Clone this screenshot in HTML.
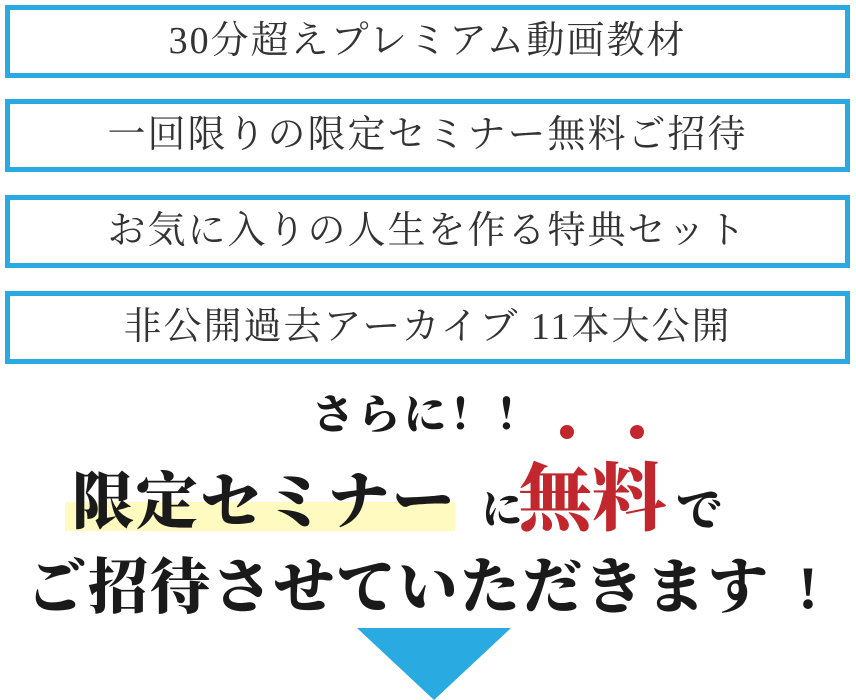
<!DOCTYPE html>
<html><head><meta charset="utf-8"><style>
body{margin:0;width:856px;height:700px;background:#fff;position:relative;overflow:hidden;font-family:"Liberation Serif","Noto Serif CJK SC",serif}
.box{position:absolute;left:5px;width:835px;height:63px;border:5px solid #29abe2;color:#333;font-size:38px;letter-spacing:2px;text-align:center;line-height:63px;white-space:nowrap}
.t{position:absolute;white-space:nowrap;font-weight:900;color:#1a1a1a}
</style></head><body>
<div class="box" style="top:5px">30分超えプレミアム動画教材</div>
<div class="box" style="top:99px">一回限りの限定セミナー無料ご招待</div>
<div class="box" style="top:195px">お気に入りの人生を作る特典セット</div>
<div class="box" style="top:291px">非公開過去アーカイブ 11本大公開</div>
<div class="t" style="left:312px;top:382px;font-size:42px;letter-spacing:4px">さらに！！</div>
<div style="position:absolute;left:65px;top:502px;width:390px;height:29px;background:#fffbc0"></div>
<div style="position:absolute;left:560px;top:425px;width:14px;height:14px;border-radius:50%;background:#c1272d"></div>
<div style="position:absolute;left:630px;top:425px;width:14px;height:14px;border-radius:50%;background:#c1272d"></div>
<div class="t" style="left:72px;top:452px;font-size:62px;letter-spacing:2px">限定セミナー</div>
<div class="t" style="left:482px;top:478px;font-size:40px">に</div>
<div class="t" style="left:518px;top:440px;font-size:74px;color:#c1272d">無料</div>
<div class="t" style="left:676px;top:474px;font-size:46px">で</div>
<div class="t" style="left:26px;top:540px;font-size:60px;letter-spacing:2px">ご招待させていただきます<span style="display:inline-block;width:50px;text-align:right">!</span></div>
<svg style="position:absolute;left:0;top:0" width="856" height="700"><polygon points="357,628 511,628 434,700" fill="#29abe2"/></svg>
</body></html>
